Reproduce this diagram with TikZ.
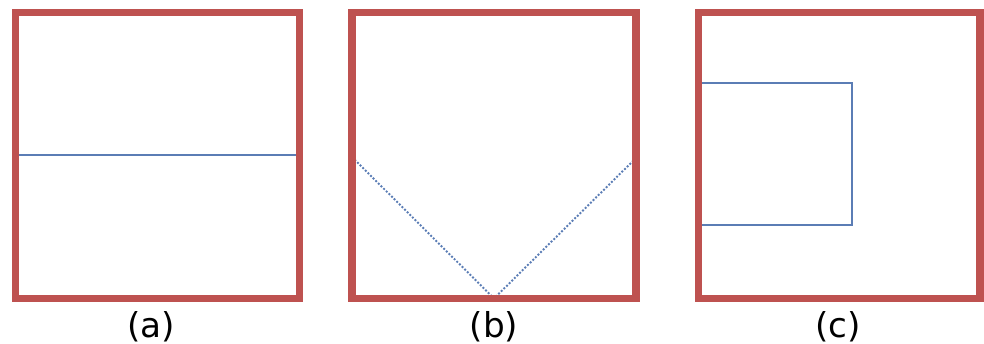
\documentclass[tikz,border=0pt]{standalone}
\usepackage{fontspec}
\setmainfont{DejaVu Sans}
\usepackage{xcolor}
\usetikzlibrary{positioning}
\definecolor{framered}{HTML}{BE5250}
\definecolor{cutblue}{HTML}{5B7DB5}

\begin{document}
\begin{tikzpicture}[
  x=0.02cm,y=-0.02cm,
  frame/.style={draw=framered,line width=4pt,line join=miter},
  cut/.style={draw=cutblue,line width=1.1pt},
  dotcut/.style={draw=cutblue,line width=1.1pt,densely dotted},
  lab/.style={font=\fontsize{19.5}{22}\selectfont,inner sep=0pt}
]
  \useasboundingbox (0,0) rectangle (984,344);

  % (a) straight cut
  \draw[cut] (15.5,155) coordinate (al) -- (299.5,155) coordinate (ar);
  \draw[frame] (15.5,12.5) rectangle (299.5,298.5);
  \node[lab] (la) at (151,327) {(a)};

  % (b) v-shaped cut
  \coordinate (bl) at (352,157);
  \coordinate (bm) at (494,298.5);
  \coordinate (br) at (636,158);
  \draw[dotcut] (bl) -- (bm) -- (br);
  \draw[frame] (352,12.5) rectangle (636,298.5);
  \node[lab] (lb) at (494,327) {(b)};

  % (c) box cut
  \coordinate (ct) at (698,83);
  \coordinate (ctr) at (852,83);
  \coordinate (cbr) at (852,225);
  \coordinate (cb) at (698,225);
  \draw[cut] (ct) -- (ctr) -- (cbr) -- (cb);
  \draw[frame] (698.5,12.5) rectangle (980,298.5);
  \node[lab] (lc) at (838,327) {(c)};
\end{tikzpicture}
\end{document}
